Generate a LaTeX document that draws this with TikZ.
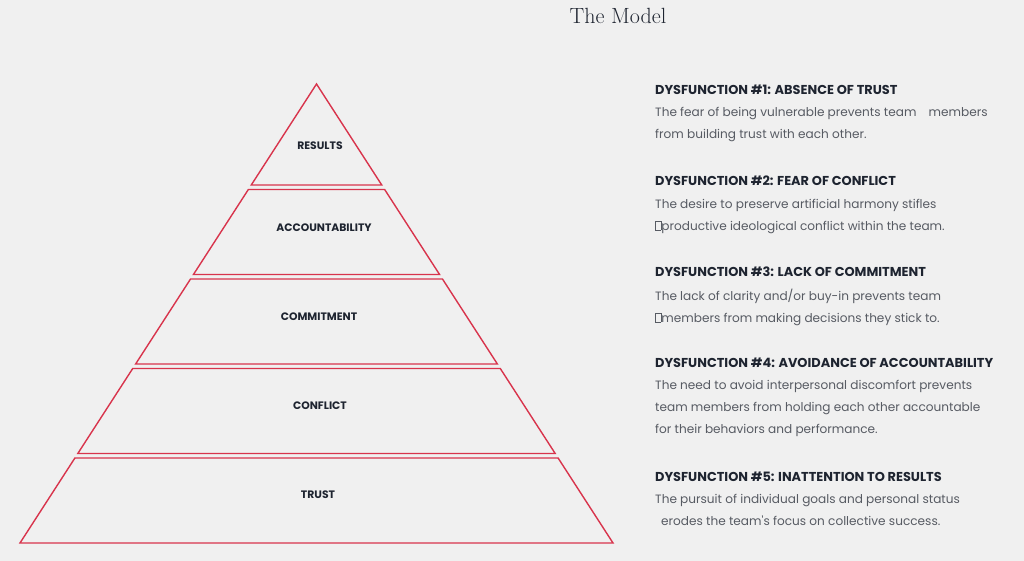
\documentclass[tikz,border=0pt]{standalone}
\usepackage{fontspec}
\newfontfamily\dysfont{Poppins}
\usepackage{tikz}
\usetikzlibrary{positioning}
\definecolor{PyrRed}{HTML}{D8344C}
\definecolor{PageGrey}{HTML}{F0F0F0}
\definecolor{HeadNavy}{HTML}{1E2430}
\definecolor{BodyGrey}{HTML}{575B63}
\newcommand{\missingglyph}{{\fboxsep=0pt\fboxrule=0.6pt\fbox{\rule{0pt}{8.5pt}\hspace{5pt}}}}

\begin{document}
\begin{tikzpicture}[x=1pt, y=-1pt,
    band/.style={draw=PyrRed, line width=1.4pt, line join=miter},
    bandlabel/.style={font=\dysfont\bfseries\fontsize{10.8}{12}\selectfont, text=HeadNavy, inner sep=0pt},
    dyshead/.style={font=\dysfont\bfseries\fontsize{12.9}{14}\selectfont, text=HeadNavy, inner sep=0pt, anchor=west},
    dysbody/.style={font=\dysfont\fontsize{12.1}{22}\selectfont, text=BodyGrey, inner sep=0pt, align=left}]
    % background and size
    \fill[PageGrey] (0,0) rectangle (1024,561);
    \useasboundingbox (0,0) rectangle (1024,561);

    \node[font=\fontsize{22}{24}\selectfont, text=HeadNavy] (title) at (618,16) {The Model};

    % Pyramid, five slices of one triangle
    \pgfmathsetmacro{\slope}{296.5/459}
    \draw[band] (316.5,84) -- (316.5+\slope*101,185) -- (316.5-\slope*101,185) -- cycle;
    \foreach \t/\b in {189.5/274.5, 279/364, 368.5/453.5, 458/543} {
        \pgfmathsetmacro{\wt}{\slope*(\t-84)}
        \pgfmathsetmacro{\wb}{\slope*(\b-84)}
        \draw[band] (316.5-\wt,\t) -- (316.5+\wt,\t) -- (316.5+\wb,\b) -- (316.5-\wb,\b) -- cycle;
    }

    \node[bandlabel] (results) at (320,146) {RESULTS};
    \node[bandlabel] (accountability) at (324,228) {ACCOUNTABILITY};
    \node[bandlabel] (commitment) at (319,317) {COMMITMENT};
    \node[bandlabel] (conflict) at (320,406) {CONFLICT};
    \node[bandlabel] (trust) at (318,495) {TRUST};

    % Dysfunctions
    \node[dyshead] (dys1) at (655,89.5) {DYSFUNCTION \#1: ABSENCE OF TRUST};
    \node[dysbody, below right=13pt and 0pt of dys1.south west] (dys1text) {The fear of being vulnerable prevents team\hspace{9pt} members\\from building trust with each other.};

    \node[dyshead] (dys2) at (655,180.5) {DYSFUNCTION \#2: FEAR OF CONFLICT};
    \node[dysbody, below right=13pt and 0pt of dys2.south west] (dys2text) {The desire to preserve artificial harmony stifles\\\missingglyph productive ideological conflict within the team.};

    \node[dyshead] (dys3) at (655,271.5) {DYSFUNCTION \#3: LACK OF COMMITMENT};
    \node[dysbody, below right=12pt and 0pt of dys3.south west] (dys3text) {The lack of clarity and/or buy-in prevents team\\\missingglyph members from making decisions they stick to.};

    \node[dyshead] (dys4) at (655,362.5) {DYSFUNCTION \#4: AVOIDANCE OF ACCOUNTABILITY};
    \node[dysbody, below right=13pt and 0pt of dys4.south west] (dys4text) {The need to avoid interpersonal discomfort prevents\\team members from holding each other accountable\\for their behaviors and performance.};

    \node[dyshead] (dys5) at (655,476.5) {DYSFUNCTION \#5: INATTENTION TO RESULTS};
    \node[dysbody, below right=13pt and 0pt of dys5.south west] (dys5text) {The pursuit of individual goals and personal status\\\hspace{6pt}erodes the team's focus on collective success.};
\end{tikzpicture}
\end{document}
